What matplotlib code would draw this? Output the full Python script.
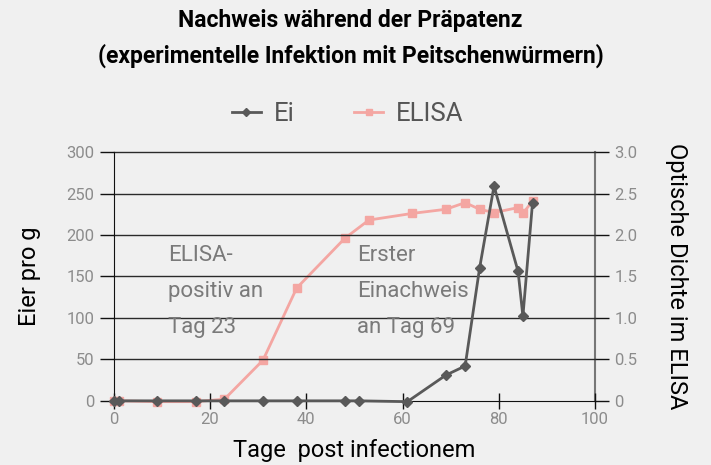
import matplotlib.pyplot as plt

# Eier pro g (linke Achse)
ei_days = [0, 1, 9, 17, 23, 31, 38, 48, 51, 61, 69, 73, 76, 79, 84, 85, 87]
ei_values = [0, 0, 0, 0, 0, 0, 0, 0, 0, -1, 31, 42, 160, 259, 156, 102, 239]

# Optische Dichte im ELISA (rechte Achse)
elisa_days = [0, 1, 9, 17, 23, 31, 38, 48, 53, 62, 69, 73, 76, 79, 84, 85, 87]
elisa_values = [0.0, 0.0, -0.01, -0.01, 0.02, 0.49, 1.36, 1.96, 2.18, 2.26, 2.31,
                2.39, 2.31, 2.27, 2.33, 2.26, 2.41]

left_ticks = [0, 50, 100, 150, 200, 250, 300]
right_ticks = [0, 0.5, 1.0, 1.5, 2.0, 2.5, 3.0]
right_labels = ["0", "0.5", "1.0", "1.5", "2.0", "2.5", "3.0"]
x_ticks = [0, 20, 40, 60, 80, 100]

bg = "#f0f0f0"
ei_color = "#595959"
elisa_color = "#f4a6a2"
tick_color = "#8c8c8c"

plt.rcParams["font.family"] = ["Roboto", "DejaVu Sans"]

fig = plt.figure(figsize=(7.11, 4.65), dpi=100, facecolor=bg)
ax = fig.add_axes([0.160, 0.138, 0.677, 0.535], facecolor=bg)
ax2 = ax.twinx()

ax.set_xlim(0, 100)
ax.set_ylim(0, 300)
ax2.set_ylim(0, 3.0)

for y in left_ticks[1:]:
    ax.axhline(y, color="#2a2a2a", lw=1.0, zorder=1, clip_on=False)

l1, = ax.plot(ei_days, ei_values, color=ei_color, lw=2.0, marker="D", ms=5,
              zorder=3, clip_on=False, label="Ei")
l2, = ax2.plot(elisa_days, elisa_values, color=elisa_color, lw=2.0, marker="s",
               ms=6, zorder=2, clip_on=False, label="ELISA")
ax.set_zorder(ax2.get_zorder() + 1)
ax.patch.set_visible(False)

ax.spines["top"].set_visible(False)
ax2.spines["top"].set_visible(False)
ax.spines["right"].set_visible(False)
ax2.spines["left"].set_visible(False)
ax2.spines["bottom"].set_visible(False)
ax.spines["left"].set_color("#111111")
ax.spines["bottom"].set_color("#111111")
ax2.spines["right"].set_color("#777777")
ax2.spines["right"].set_linewidth(1.5)

ax.set_yticks(left_ticks)
ax.set_xticks(x_ticks)
ax2.set_yticks(right_ticks)
ax2.set_yticklabels(right_labels)
ax.tick_params(axis="y", direction="out", length=10, width=1, color="#111111",
               labelcolor=tick_color, labelsize=12, pad=4)
ax.tick_params(axis="x", direction="inout", length=12, width=1, color="#111111",
               labelcolor=tick_color, labelsize=12, pad=2)
ax2.tick_params(axis="y", direction="out", length=10, width=1, color="#111111",
                labelcolor=tick_color, labelsize=12, pad=4)

ax.set_ylabel("Eier pro g", fontsize=17, labelpad=18)
ax2.set_ylabel("Optische Dichte im ELISA", fontsize=17, rotation=-90, labelpad=36)
ax.set_xlabel("Tage  post infectionem", fontsize=17, labelpad=9)

ax.text(11.2, 132, "ELISA-\npositiv an\nTag 23", fontsize=16, color="#7a7a7a",
        linespacing=1.95, va="center", ha="left", zorder=5)
ax.text(50.5, 132, "Erster\nEinachweis\nan Tag 69", fontsize=16, color="#7a7a7a",
        linespacing=1.95, va="center", ha="left", zorder=5)

fig.text(0.493, 0.955, "Nachweis während der Präpatenz", fontsize=16.5,
         fontweight="bold", ha="center", va="center")
fig.text(0.493, 0.879, "(experimentelle Infektion mit Peitschenwürmern)",
         fontsize=16.5, fontweight="bold", ha="center", va="center")

leg = fig.legend(handles=[l1, l2], loc="center", bbox_to_anchor=(0.489, 0.754),
                 ncol=2, frameon=False, fontsize=18.5, handlelength=1.15,
                 columnspacing=2.3, handletextpad=0.5, markerscale=0.8)
for t in leg.get_texts():
    t.set_color("#555555")

fig.savefig("out.png", dpi=100, facecolor=bg)
